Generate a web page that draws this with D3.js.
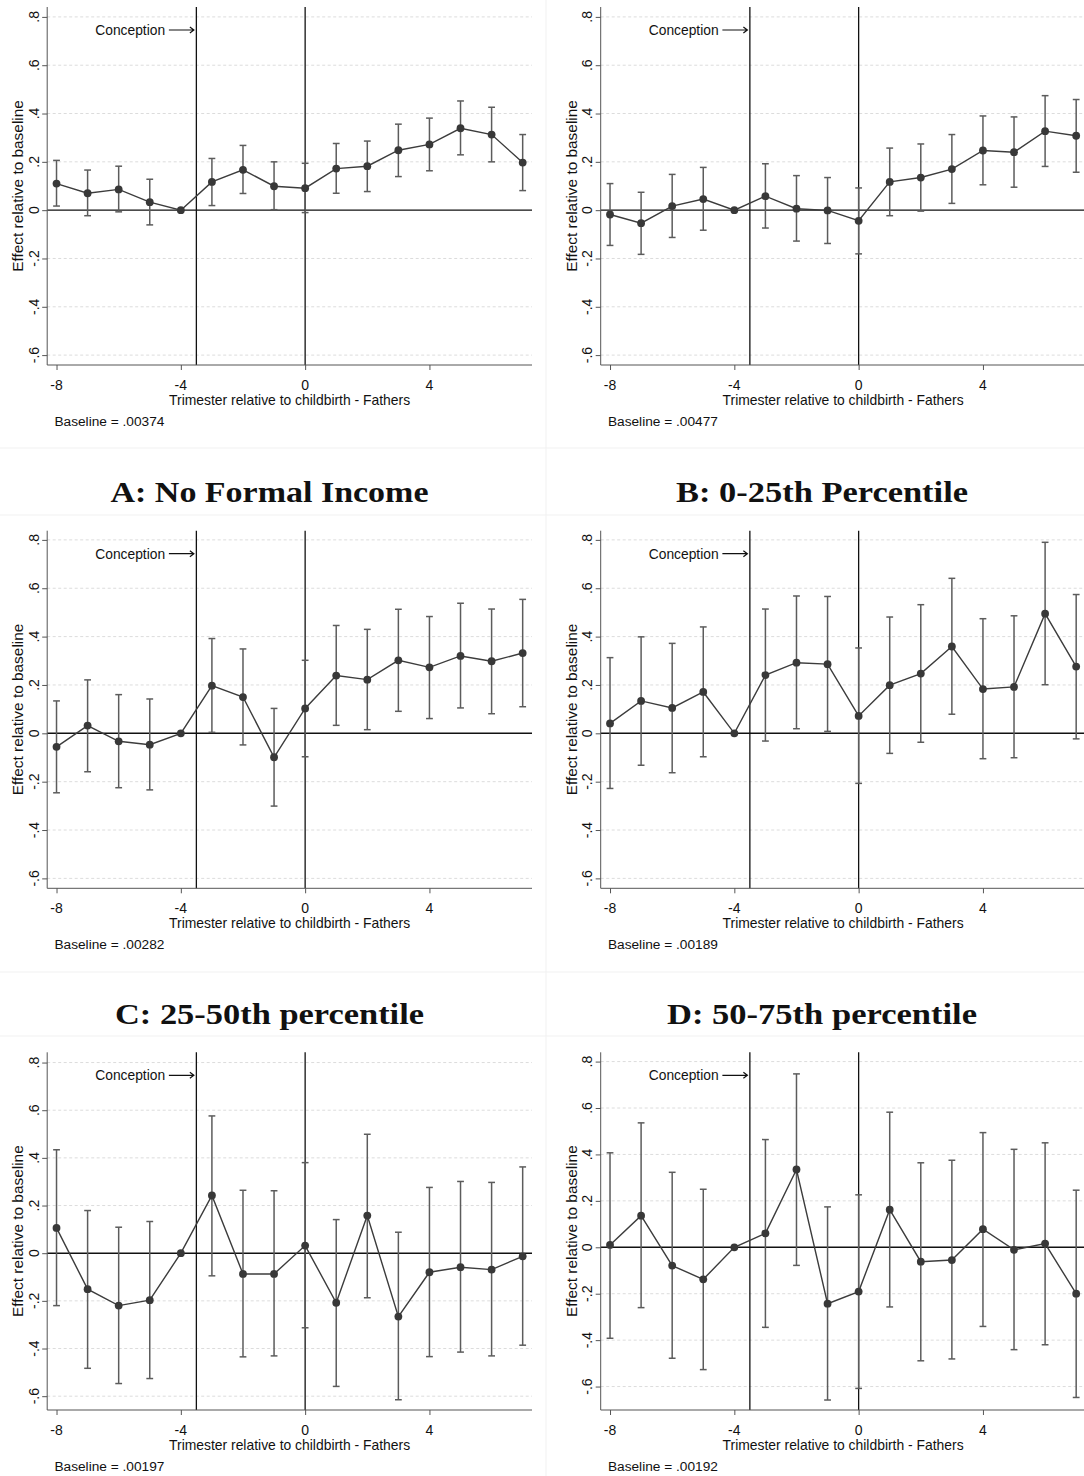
<!DOCTYPE html>
<html>
<head>
<meta charset="utf-8">
<script src="https://cdn.jsdelivr.net/npm/d3@7"></script>
<style>
  body { margin: 0; background: #fff; }
  svg { display: block; }
</style>
</head>
<body>
<svg id="fig" width="1084" height="1476"></svg>
<script>
// Event-study estimates for fathers, trimester relative to childbirth (t = -4 is the omitted reference)
const trimesters = [-8, -7, -6, -5, -4, -3, -2, -1, 0, 1, 2, 3, 4, 5, 6, 7];
const xTicks = [-8, -4, 0, 4];
const xTickLabels = ["-8", "-4", "0", "4"];
const yTicks = [-0.6, -0.4, -0.2, 0, 0.2, 0.4, 0.6, 0.8];
const yTickLabels = ["-.6", "-.4", "-.2", "0", ".2", ".4", ".6", ".8"];
const conceptionX = -3.5;
const birthX = 0;

const panelTitles = ["A: No Formal Income", "B: 0-25th Percentile", "C: 25-50th percentile", "D: 50-75th percentile"];
const baselines = [".00374", ".00477", ".00282", ".00189", ".00197", ".00192"];

// A: no formal income
const estA = [0.110, 0.070, 0.086, 0.033, 0, 0.117, 0.167, 0.099, 0.091, 0.172, 0.182, 0.248, 0.272, 0.339, 0.313, 0.197];
const loA  = [0.017, -0.023, -0.007, -0.061, null, 0.019, 0.069, 0.002, -0.010, 0.070, 0.077, 0.139, 0.163, 0.229, 0.200, 0.081];
const hiA  = [0.206, 0.166, 0.182, 0.128, null, 0.214, 0.268, 0.200, 0.194, 0.276, 0.286, 0.356, 0.381, 0.452, 0.426, 0.313];

// B: 0-25th percentile
const estB = [-0.018, -0.054, 0.017, 0.046, 0, 0.058, 0.006, -0.001, -0.044, 0.117, 0.135, 0.170, 0.247, 0.240, 0.327, 0.308];
const loB  = [-0.146, -0.183, -0.113, -0.083, null, -0.074, -0.128, -0.138, -0.181, -0.023, -0.004, 0.028, 0.105, 0.095, 0.181, 0.157];
const hiB  = [0.110, 0.074, 0.148, 0.177, null, 0.192, 0.143, 0.135, 0.092, 0.257, 0.274, 0.313, 0.390, 0.386, 0.474, 0.458];

// C: 25-50th percentile
const estC = [-0.056, 0.032, -0.033, -0.047, 0, 0.197, 0.150, -0.099, 0.103, 0.239, 0.222, 0.302, 0.273, 0.320, 0.298, 0.332];
const loC  = [-0.246, -0.159, -0.225, -0.234, null, 0.004, -0.048, -0.301, -0.097, 0.033, 0.015, 0.091, 0.061, 0.105, 0.081, 0.110];
const hiC  = [0.134, 0.221, 0.160, 0.142, null, 0.392, 0.349, 0.103, 0.302, 0.446, 0.430, 0.513, 0.483, 0.538, 0.514, 0.554];

// D: 50-75th percentile
const estD = [0.041, 0.134, 0.105, 0.171, 0, 0.241, 0.292, 0.286, 0.072, 0.199, 0.247, 0.359, 0.183, 0.192, 0.495, 0.276];
const loD  = [-0.228, -0.132, -0.163, -0.097, null, -0.032, 0.019, 0.008, -0.207, -0.083, -0.037, 0.079, -0.105, -0.101, 0.201, -0.023];
const hiD  = [0.313, 0.399, 0.372, 0.440, null, 0.514, 0.568, 0.566, 0.353, 0.481, 0.532, 0.641, 0.474, 0.486, 0.790, 0.574];

// E: 75-90th percentile
const estE = [0.106, -0.151, -0.220, -0.197, 0, 0.242, -0.087, -0.087, 0.032, -0.208, 0.158, -0.266, -0.080, -0.059, -0.069, -0.013];
const loE  = [-0.220, -0.483, -0.547, -0.526, null, -0.095, -0.435, -0.431, -0.313, -0.559, -0.187, -0.615, -0.434, -0.415, -0.431, -0.386];
const hiE  = [0.434, 0.179, 0.109, 0.133, null, 0.576, 0.264, 0.262, 0.380, 0.141, 0.499, 0.088, 0.276, 0.301, 0.297, 0.362];

// F: top decile
const estF = [0.010, 0.136, -0.079, -0.138, 0, 0.060, 0.335, -0.243, -0.191, 0.162, -0.062, -0.055, 0.078, -0.011, 0.016, -0.200];
const loF  = [-0.392, -0.260, -0.478, -0.527, null, -0.345, -0.078, -0.658, -0.608, -0.257, -0.489, -0.481, -0.341, -0.441, -0.420, -0.647];
const hiF  = [0.407, 0.536, 0.323, 0.250, null, 0.464, 0.747, 0.174, 0.226, 0.582, 0.364, 0.375, 0.494, 0.422, 0.450, 0.246];

// y ranges of each graph (Stata pads the data range a little)
const yDomains = [
  [-0.641, 0.841], [-0.641, 0.841],
  [-0.641, 0.838], [-0.641, 0.838],
  [-0.658, 0.843], [-0.701, 0.840]
];

const series = [
  { est: estA, lo: loA, hi: hiA },
  { est: estB, lo: loB, hi: hiB },
  { est: estC, lo: loC, hi: hiC },
  { est: estD, lo: loD, hi: hiD },
  { est: estE, lo: loE, hi: hiE },
  { est: estF, lo: loF, hi: hiF }
];

const svg = d3.select("#fig");
const FONT = "Arial, 'Liberation Sans', sans-serif";
const W = 1084;

// faint seams between the stacked graph images
const seams = svg.append("g").attr("stroke", "#f1f1f1").attr("stroke-width", 1);
seams.append("line").attr("x1", 546).attr("x2", 546).attr("y1", 0).attr("y2", 1476);
[448, 515, 972, 1036].forEach(y => seams.append("line").attr("x1", 0).attr("x2", W).attr("y1", y).attr("y2", y));

// panel geometry (the right-hand graphs run off the page edge)
const cols = [
  { left: 47.2 },
  { left: 600.7 }
];
const rows = [
  { top: 7, bottom: 365 },
  { top: 530.7, bottom: 888.3 },
  { top: 1052.3, bottom: 1410 }
];
const xDomain = [-8.3, 7.3];
const xWidth = 484.8;

function drawPanel(i) {
  const col = cols[i % 2], row = rows[Math.floor(i / 2)];
  const s = series[i];
  const x = d3.scaleLinear().domain(xDomain).range([col.left, col.left + xWidth]);
  const y = d3.scaleLinear().domain(yDomains[i]).range([row.bottom, row.top]);
  const g = svg.append("g");
  const [x0, x1] = x.range();

  // dashed horizontal grid
  g.append("g").selectAll("line").data(yTicks.filter(v => v !== 0)).join("line")
    .attr("x1", x0).attr("x2", x1)
    .attr("y1", d => y(d)).attr("y2", d => y(d))
    .attr("stroke", "#dcdcdc").attr("stroke-width", 1)
    .attr("stroke-dasharray", "3,2.5");

  // zero line
  g.append("line").attr("x1", x0).attr("x2", x1)
    .attr("y1", y(0)).attr("y2", y(0))
    .attr("stroke", "#111").attr("stroke-width", 1.4);

  // conception and birth reference lines
  g.append("g").selectAll("line").data([conceptionX, birthX]).join("line")
    .attr("x1", d => x(d)).attr("x2", d => x(d))
    .attr("y1", row.top).attr("y2", row.bottom)
    .attr("stroke", "#111").attr("stroke-width", 1.3);

  // conception annotation with arrow
  const cx = x(conceptionX);
  const ay = row.top + 23;
  g.append("text").attr("x", cx - 31.3).attr("y", row.top + 28)
    .attr("text-anchor", "end").attr("font-family", FONT).attr("font-size", 13.8)
    .attr("fill", "#111").text("Conception");
  g.append("path")
    .attr("d", `M${cx - 27.5},${ay} L${cx - 2.5},${ay} M${cx - 6.5},${ay - 3} L${cx - 2.5},${ay} L${cx - 6.5},${ay + 3}`)
    .attr("fill", "none").attr("stroke", "#111").attr("stroke-width", 1.2);

  // confidence intervals
  const ci = trimesters.map((t, k) => ({ t, lo: s.lo[k], hi: s.hi[k] })).filter(d => d.lo !== null);
  const cig = g.append("g").attr("stroke", "#5c5c5c").attr("stroke-width", 1.5).attr("fill", "none");
  cig.selectAll("line.v").data(ci).join("line").attr("class", "v")
    .attr("x1", d => x(d.t)).attr("x2", d => x(d.t))
    .attr("y1", d => y(d.lo)).attr("y2", d => y(d.hi));
  cig.selectAll("line.top").data(ci).join("line").attr("class", "top")
    .attr("x1", d => x(d.t) - 3.4).attr("x2", d => x(d.t) + 3.4)
    .attr("y1", d => y(d.hi)).attr("y2", d => y(d.hi));
  cig.selectAll("line.bot").data(ci).join("line").attr("class", "bot")
    .attr("x1", d => x(d.t) - 3.4).attr("x2", d => x(d.t) + 3.4)
    .attr("y1", d => y(d.lo)).attr("y2", d => y(d.lo));

  // point estimates
  const pts = trimesters.map((t, k) => ({ t, v: s.est[k] }));
  g.append("path").datum(pts)
    .attr("d", d3.line().x(d => x(d.t)).y(d => y(d.v)))
    .attr("fill", "none").attr("stroke", "#3c3c3c").attr("stroke-width", 1.4);
  g.append("g").selectAll("circle").data(pts).join("circle")
    .attr("cx", d => x(d.t)).attr("cy", d => y(d.v)).attr("r", 3.9)
    .attr("fill", "#383838");

  // y axis with rotated tick labels
  const ya = g.append("g").attr("transform", `translate(${x0},0)`)
    .call(d3.axisLeft(y).tickValues(yTicks).tickSize(5).tickFormat(""));
  ya.select(".domain").attr("d", `M0,${row.top}V${row.bottom}`).attr("stroke", "#555");
  ya.selectAll(".tick line").attr("stroke", "#555");
  g.append("g").selectAll("text").data(yTicks).join("text")
    .attr("transform", d => `translate(${x0 - 8.6},${y(d)}) rotate(-90)`)
    .attr("text-anchor", "middle").attr("font-family", FONT).attr("font-size", 14)
    .attr("fill", "#111").text((d, k) => yTickLabels[k]);

  // x axis
  const xa = g.append("g").attr("transform", `translate(0,${row.bottom})`)
    .call(d3.axisBottom(x).tickValues(xTicks).tickSize(5).tickFormat(""));
  xa.select(".domain").attr("d", `M${x0},0H${x1}`).attr("stroke", "#555");
  xa.selectAll(".tick line").attr("stroke", "#555");
  g.append("g").selectAll("text").data(xTicks).join("text")
    .attr("x", d => x(d)).attr("y", row.bottom + 25)
    .attr("text-anchor", "middle").attr("font-family", FONT).attr("font-size", 14)
    .attr("fill", "#111").text((d, k) => xTickLabels[k]);

  // axis titles
  g.append("text").attr("x", x((xDomain[0] + xDomain[1]) / 2)).attr("y", row.bottom + 40)
    .attr("text-anchor", "middle").attr("font-family", FONT).attr("font-size", 13.9)
    .attr("fill", "#111").text("Trimester relative to childbirth - Fathers");
  g.append("text")
    .attr("transform", `translate(${x0 - 23.8},${(row.top + row.bottom) / 2}) rotate(-90)`)
    .attr("text-anchor", "middle").attr("font-family", FONT).attr("font-size", 15.4)
    .attr("fill", "#111").text("Effect relative to baseline");

  // baseline note
  g.append("text").attr("x", x0 + 7.2).attr("y", row.bottom + 61)
    .attr("font-family", FONT).attr("font-size", 13.7)
    .attr("fill", "#111").text("Baseline = " + baselines[i]);
}

d3.range(6).forEach(drawPanel);

// panel captions
const captionCenters = [269.5, 822];
const captionRows = [501.5, 1023.5];
const captionWidths = [318, 292, 309, 310];
panelTitles.forEach((t, i) => {
  svg.append("text")
    .attr("x", captionCenters[i % 2]).attr("y", captionRows[Math.floor(i / 2)])
    .attr("text-anchor", "middle")
    .attr("font-family", "'Liberation Serif', 'DejaVu Serif', serif")
    .attr("font-weight", "bold").attr("font-size", 29)
    .attr("textLength", captionWidths[i]).attr("lengthAdjust", "spacingAndGlyphs")
    .attr("fill", "#111").text(t);
});
</script>
</body>
</html>
